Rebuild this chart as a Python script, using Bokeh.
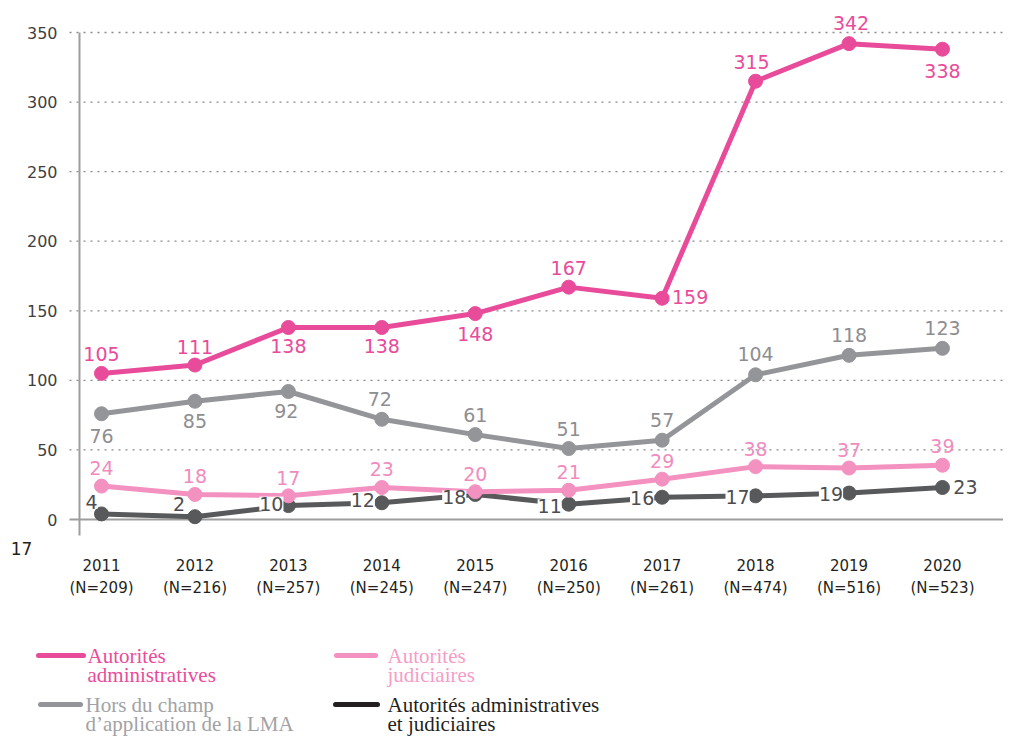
from bokeh.plotting import figure
from bokeh.models import ColumnDataSource, LabelSet, Range1d, FixedTicker, LinearAxis
from bokeh.embed import file_html
from bokeh.resources import INLINE
from bokeh.core.properties import value

# ---------------- data ----------------
years = [2011, 2012, 2013, 2014, 2015, 2016, 2017, 2018, 2019, 2020]
n_totals = [209, 216, 257, 245, 247, 250, 261, 474, 516, 523]
admin = [105, 111, 138, 138, 148, 167, 159, 315, 342, 338]
judic = [24, 18, 17, 23, 20, 21, 29, 38, 37, 39]
hors = [76, 85, 92, 72, 61, 51, 57, 104, 118, 123]
both = [4, 2, 10, 12, 18, 11, 16, 17, 19, 23]
y_ticks = [0, 50, 100, 150, 200, 250, 300, 350]
legend_labels = [
    "Autorités\nadministratives",
    "Autorités\njudiciaires",
    "Hors du champ\nd’application de la LMA",
    "Autorités administratives\net judiciaires",
]
corner_note = "17"

# ---------------- label placement (screen px, +dy = down) ----------------
admin_dx = [0, 0, 0, 0, 0, 0, 28, -4, 2, 0]
admin_dy = [-19, -18, 19, 19, 20, -19, -1, -19, -21, 22]
judic_dx = [0] * 10
judic_dy = [-18, -18, -18, -18, -18, -18, -18, -18, -18, -19]
hors_dx = [0, 0, -2, -2, 0, 0, 0, 0, 0, 0]
hors_dy = [22, 20, 20, -20, -20, -20, -20, -21, -20, -20]
both_dx = [-10, -16, -17, -19, -21, -19, -20, -18, -18, 23]
both_dy = [-12, -13, -2, -3, 3, 2, 1, 1, 1, 0]

# ---------------- styles / geometry ----------------
C_ADMIN = "#E94B9B"
C_JUDIC = "#F391C0"
C_HORS = "#939598"
C_BOTH = "#58595B"
C_AXIS = "#9d9d9d"
NUM_FONT = "DejaVu Sans"
LEG_FONT = "Liberation Serif"

W, H = 1003, 739
PX_PER_YEAR = 93.44          # horizontal scale
PX_PER_UNIT = 1.3914         # vertical scale
X_FIRST_PX = 101             # canvas x of first year
Y_ZERO_PX = 519              # canvas y of value 0


def xd(px):  # canvas x -> data x
    return years[0] + (px - X_FIRST_PX) / PX_PER_YEAR


def yd(py):  # canvas y -> data y
    return (Y_ZERO_PX - py) / PX_PER_UNIT


p = figure(width=W, height=H, x_range=Range1d(xd(0), xd(W)), y_range=Range1d(yd(H), yd(0)),
           toolbar_location=None, output_backend="svg", min_border=0,
           x_axis_type=None, y_axis_type=None, outline_line_color=None)
p.extra_x_ranges = {"px": Range1d(0, W)}
p.extra_y_ranges = {"py": Range1d(H, 0)}

# ---- axes (fixed inside the canvas) ----
yaxis = LinearAxis(ticker=FixedTicker(ticks=y_ticks), fixed_location=xd(79),
                   bounds=(yd(535), y_ticks[-1]), level="underlay")
yaxis.axis_line_color = C_AXIS
yaxis.axis_line_width = 2
yaxis.major_tick_line_color = None
yaxis.minor_tick_line_color = None
yaxis.major_tick_out = 0
yaxis.major_tick_in = 0
yaxis.major_label_standoff = 22
yaxis.major_label_text_font = NUM_FONT
yaxis.major_label_text_font_size = "16px"
yaxis.major_label_text_color = "#3f3f3f"
p.add_layout(yaxis, "left")

xaxis = LinearAxis(ticker=FixedTicker(ticks=years), fixed_location=0,
                   bounds=(xd(69), xd(W)), level="underlay")
xaxis.major_label_overrides = {y: f"{y}\n(N={n})" for y, n in zip(years, n_totals)}
xaxis.axis_line_color = C_AXIS
xaxis.axis_line_width = 2
xaxis.major_tick_line_color = None
xaxis.minor_tick_line_color = None
xaxis.major_tick_out = 0
xaxis.major_tick_in = 0
xaxis.major_label_standoff = 37
xaxis.major_label_text_font = NUM_FONT
xaxis.major_label_text_font_size = "15px"
xaxis.major_label_text_color = "#231F20"
xaxis.major_label_text_line_height = 1.25
p.add_layout(xaxis, "below")

# dotted gridlines at the y ticks (except 0, which is the axis line)
grid_vals = [t for t in y_ticks if t != 0]
p.segment(x0=[xd(69)] * len(grid_vals), y0=grid_vals, x1=[xd(W)] * len(grid_vals), y1=grid_vals,
          line_color="#8a8a8a", line_dash="2 5", line_width=1.3, level="underlay")

# ---- series ----
series = [
    (both, C_BOTH, "#4D4D4F", both_dx, both_dy, True),
    (judic, C_JUDIC, "#F08CBD", judic_dx, judic_dy, False),
    (hors, C_HORS, "#8E8E91", hors_dx, hors_dy, False),
    (admin, C_ADMIN, C_ADMIN, admin_dx, admin_dy, False),
]
for vals, col, tcol, dx, dy, boxed in series:
    src = ColumnDataSource(dict(x=years, y=vals, t=[str(v) for v in vals],
                                dx=dx, dy=[-d for d in dy]))
    p.line("x", "y", source=src, line_color=col, line_width=5, line_join="round")
    p.scatter("x", "y", source=src, size=14, fill_color=col, line_color=col)
    kw = {}
    if boxed:
        kw = dict(background_fill_color="white", background_fill_alpha=1.0)
    ls = LabelSet(x="x", y="y", text="t", source=src, x_offset="dx", y_offset="dy",
                  text_align="center", text_baseline="middle", text_font=value(NUM_FONT),
                  text_font_size="19px", text_color=tcol, **kw)
    p.add_layout(ls)

# stray note at lower left
p.text(x=[21], y=[548], text=[corner_note], x_range_name="px", y_range_name="py",
       text_align="center", text_baseline="middle", text_font=value(NUM_FONT),
       text_font_size="17px", text_color="#231F20")

# ---------------- legend (canvas pixel ranges) ----------------
sw_x0 = [38, 336, 40, 335]
sw_x1 = [83, 375, 80, 377]
sw_y = [655, 655, 704, 704]
txt_x = [87, 387, 85, 387]
sw_col = [C_ADMIN, C_JUDIC, C_HORS, "#231F20"]
txt_col = [C_ADMIN, "#F59DC7", "#A2A2A4", "#231F20"]
p.segment(x0=sw_x0, y0=sw_y, x1=sw_x1, y1=sw_y, line_color=sw_col, line_width=5,
          line_cap="round", x_range_name="px", y_range_name="py")
tx, ty, tt, tc = [], [], [], []
for i, lab in enumerate(legend_labels):
    for j, line in enumerate(lab.split("\n")):
        tx.append(txt_x[i]); ty.append(sw_y[i] + 19 * j); tt.append(line); tc.append(txt_col[i])
p.text(x=tx, y=ty, text=tt, text_color=tc, text_font=value(LEG_FONT), text_font_size="21px",
       text_baseline="middle", text_align="left", x_range_name="px", y_range_name="py")

open("out.html", "w").write(file_html(p, INLINE))
